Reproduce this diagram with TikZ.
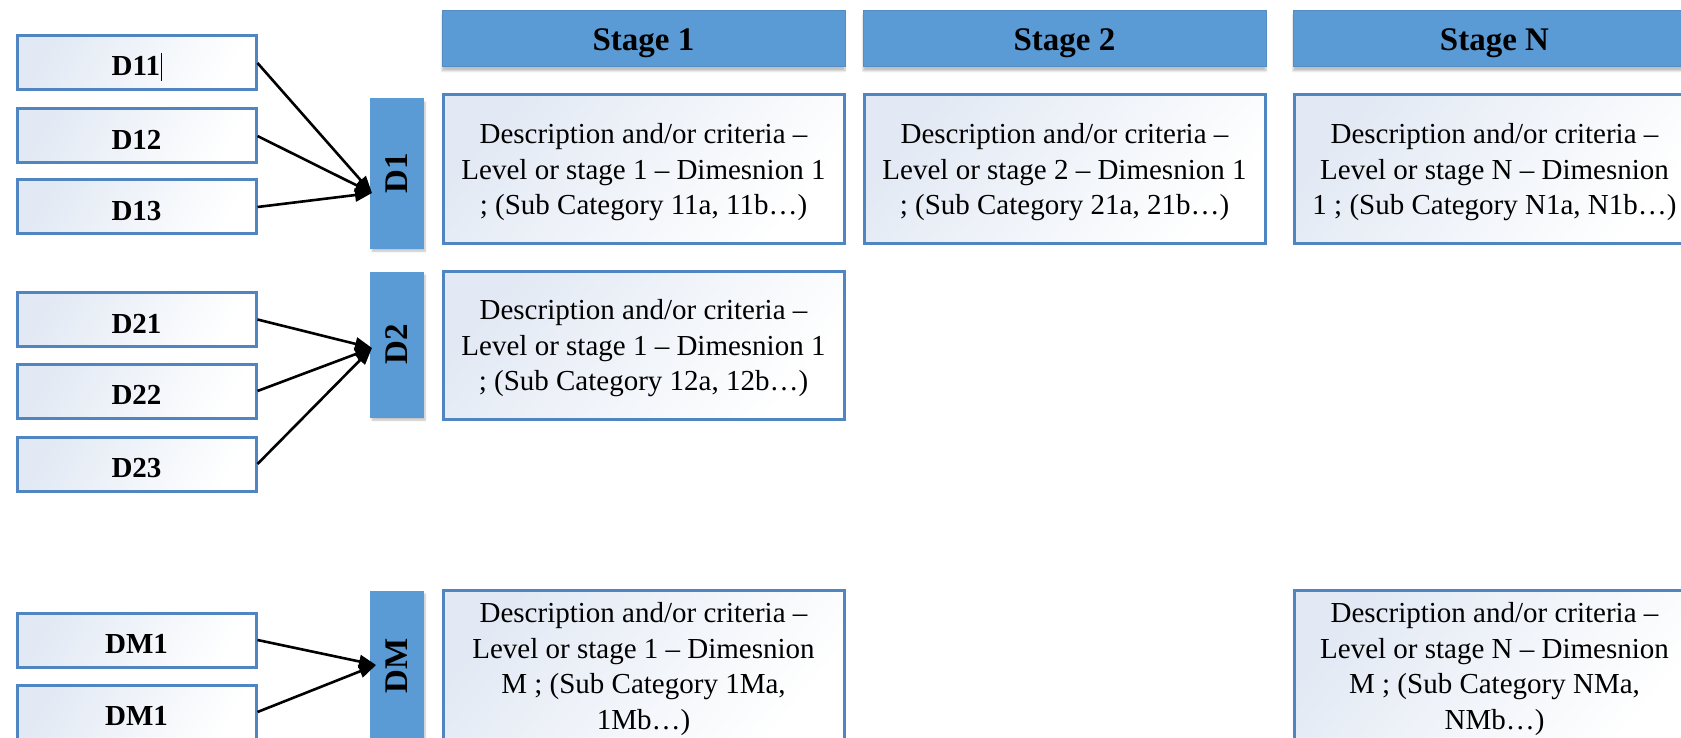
\documentclass[tikz,border=0pt]{standalone}
\usepackage{fontspec}
\setmainfont{Liberation Serif}
\usetikzlibrary{arrows.meta,shadows.blur}

\definecolor{hdrblue}{HTML}{5B9BD5}
\definecolor{edgeblue}{HTML}{4F86C2}
\definecolor{paleblue}{HTML}{E2E9F4}

% text set a little below the box centre, keeping its natural size
\newcommand{\celltext}[1]{\raisebox{-3pt}[\height][\depth]{\begin{tabular}{@{}c@{}}#1\end{tabular}}}
\newcommand{\lowtext}[1]{\raisebox{-4pt}[\height][\depth]{#1}}

\tikzset{
  header/.style={draw=hdrblue!85!black!60!hdrblue, line width=1pt, fill=hdrblue,
    minimum width=403pt, minimum height=56pt, inner sep=0pt,
    blur shadow={shadow xshift=0pt, shadow yshift=-4pt, shadow opacity=25, shadow blur steps=6},
    font=\fontsize{33}{38}\selectfont\bfseries},
  bar/.style={fill=hdrblue, draw=hdrblue, line width=1pt, rotate=90,
    minimum height=53pt, inner sep=0pt,
    blur shadow={shadow xshift=2pt, shadow yshift=-3pt, shadow opacity=25, shadow blur steps=6},
    font=\fontsize{33}{38}\selectfont\bfseries},
  cell/.style={draw=edgeblue, line width=3pt, top color=paleblue, bottom color=white,
    shading angle=50, minimum width=401pt, inner sep=0pt, align=center,
    font=\fontsize{29}{35.5}\selectfont},
  leaf/.style={draw=edgeblue, line width=3pt, top color=paleblue, bottom color=white,
    shading angle=60, minimum width=239pt, minimum height=54pt, inner sep=0pt,
    font=\fontsize{29}{34}\selectfont\bfseries},
  link/.style={line width=2.6pt, -{Triangle[length=17pt,width=13pt]}},
}

\begin{document}
\begin{tikzpicture}[x=1pt,y=-1pt]
\useasboundingbox (0,0) rectangle (1681,738);
\clip (0,0) rectangle (1681,738);

% stage headers
\node[header] (h1) at (643.5,39) {\lowtext{Stage 1}};
\node[header] (h2) at (1064.5,39) {\lowtext{Stage 2}};
\node[header] (hN) at (1494.5,39) {\lowtext{Stage N}};

% dimension bars
\node[bar, minimum width=149pt] (D1) at (396.5,173.5) {D1};
\node[bar, minimum width=145pt] (D2) at (396.5,344.5) {D2};
\node[bar, minimum width=150pt] (DM) at (396.5,666) {DM};

% description cells
\node[cell, minimum height=148pt] (c11) at (643.5,169)
  {\celltext{Description and/or criteria –\\Level or stage 1 – Dimesnion 1\\; (Sub Category 11a, 11b…)}};
\node[cell, minimum height=148pt] (c21) at (1064.5,169)
  {\celltext{Description and/or criteria –\\Level or stage 2 – Dimesnion 1\\; (Sub Category 21a, 21b…)}};
\node[cell, minimum height=148pt] (cN1) at (1494.5,169)
  {\celltext{Description and/or criteria –\\Level or stage N – Dimesnion\\1 ; (Sub Category N1a, N1b…)}};
\node[cell, minimum height=148pt] (c12) at (643.5,345)
  {\celltext{Description and/or criteria –\\Level or stage 1 – Dimesnion 1\\; (Sub Category 12a, 12b…)}};
\node[cell, minimum height=152pt] (c1M) at (643.5,666)
  {\celltext{Description and/or criteria –\\Level or stage 1 – Dimesnion\\M ; (Sub Category 1Ma,\\1Mb…)}};
\node[cell, minimum height=152pt] (cNM) at (1494.5,666)
  {\celltext{Description and/or criteria –\\Level or stage N – Dimesnion\\M ; (Sub Category NMa,\\NMb…)}};

% sub-dimension boxes
\node[leaf] (d11) at (136.5,63) {\lowtext{D11\hspace{0.5pt}\rule[-5pt]{0.8pt}{28pt}}};
\node[leaf] (d12) at (136.5,136) {\lowtext{D12}};
\node[leaf] (d13) at (136.5,207) {\lowtext{D13}};
\node[leaf] (d21) at (136.5,319.5) {\lowtext{D21}};
\node[leaf] (d22) at (136.5,391) {\lowtext{D22}};
\node[leaf] (d23) at (136.5,464) {\lowtext{D23}};
\node[leaf] (dm1) at (136.5,640) {\lowtext{DM1}};
\node[leaf] (dm2) at (136.5,712) {\lowtext{DM1}};

% arrow meeting points on the bars
\coordinate (t1) at (372,193);
\coordinate (t2) at (372,348);
\coordinate (tM) at (376,665);

\foreach \s in {d11,d12,d13} \draw[link] (\s.east) -- (t1);
\foreach \s in {d21,d22,d23} \draw[link] (\s.east) -- (t2);
\foreach \s in {dm1,dm2} \draw[link] (\s.east) -- (tM);
\end{tikzpicture}
\end{document}
